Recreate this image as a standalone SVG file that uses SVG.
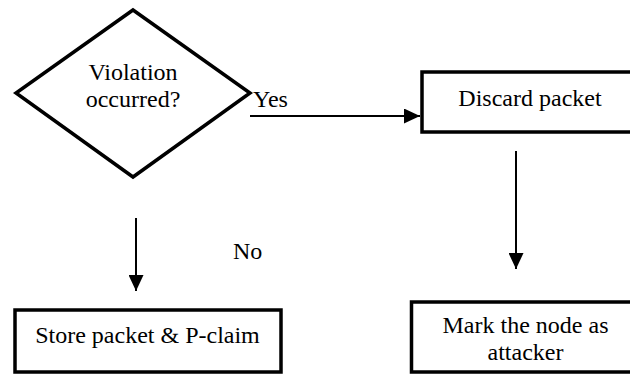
<svg xmlns="http://www.w3.org/2000/svg" width="630" height="374" viewBox="0 0 630 374">
  <style>
    .shape { fill: #ffffff; stroke: #000000; stroke-width: 3.5; }
    .box { fill: #ffffff; stroke: #000000; stroke-width: 3.5; }
    .conn { stroke: #000000; stroke-width: 2; fill: none; }
    .c { text-anchor: middle; }
  </style>
  <defs>
    <marker id="arrow" viewBox="0 0 16 15" refX="16" refY="7.5" markerWidth="16" markerHeight="15" markerUnits="userSpaceOnUse" orient="auto">
      <path d="M0,0 L16,7.5 L0,15 Z" fill="#000000"/>
    </marker>
  </defs>
  <rect width="630" height="374" fill="#ffffff"/>

  <g font-family="'Liberation Serif', 'Times New Roman', Times, serif" font-size="24" fill="#000000">
  <g id="decision">
    <polygon class="shape" points="133,10 250,93 133,177 16,93"/>
    <text class="c" x="133" y="80">Violation</text>
    <text class="c" x="133" y="107">occurred?</text>
  </g>

  <g id="discard">
    <rect class="box" x="422" y="72" width="212" height="60"/>
    <text class="c" x="530" y="106">Discard packet</text>
  </g>

  <g id="store">
    <rect class="box" x="15" y="310" width="266" height="62"/>
    <text class="c" x="147.5" y="343">Store packet &amp; P-claim</text>
  </g>

  <g id="mark">
    <rect class="box" x="411.5" y="302" width="222" height="70"/>
    <text class="c" x="525.5" y="333">Mark the node as</text>
    <text class="c" x="525.5" y="360">attacker</text>
  </g>

  <g id="connectors">
    <line class="conn" x1="250" y1="116" x2="420" y2="116" marker-end="url(#arrow)"/>
    <line class="conn" x1="516" y1="151" x2="516" y2="269" marker-end="url(#arrow)"/>
    <line class="conn" x1="136" y1="218" x2="136" y2="291" marker-end="url(#arrow)"/>
    <text x="253" y="107">Yes</text>
    <text x="233" y="259">No</text>
  </g>
  </g>
</svg>
